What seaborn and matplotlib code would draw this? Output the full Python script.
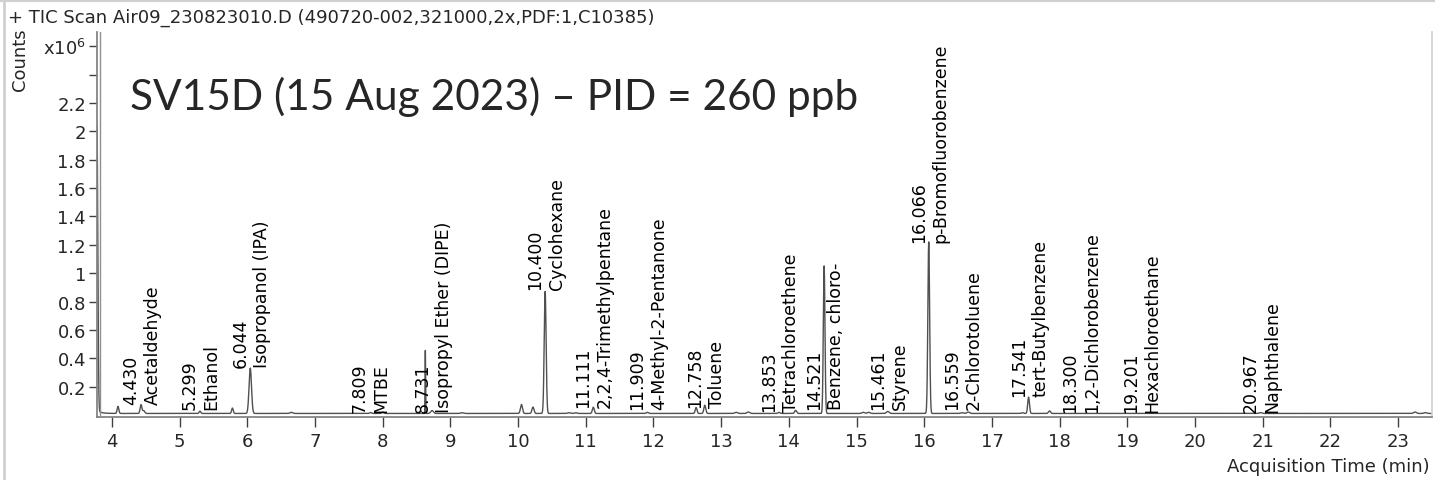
import numpy as np
import pandas as pd
import seaborn as sns
import matplotlib.pyplot as plt
from matplotlib.lines import Line2D

# peaks (retention time in min, height in 1e6 counts, width sigma in min)
peak_rt = [4.09, 4.43, 4.47, 5.30, 5.78, 6.044, 6.65, 7.82, 8.00, 8.63, 8.73, 9.17,
           10.05, 10.22, 10.40, 10.75, 10.85, 11.111, 11.909, 12.63, 12.758, 13.22,
           13.40, 13.853, 14.10, 14.521, 15.10, 15.18, 15.461, 16.066, 16.559, 16.65,
           17.45, 17.541, 17.85, 20.967, 23.25, 23.40]
peak_h = [0.05, 0.062, 0.02, 0.016, 0.038, 0.32, 0.008, 0.006, 0.01, 0.45, 0.02, 0.005,
          0.063, 0.045, 0.86, 0.005, 0.005, 0.044, 0.008, 0.042, 0.058, 0.008,
          0.01, 0.008, 0.022, 1.04, 0.008, 0.008, 0.014, 1.21, 0.005, 0.01,
          0.005, 0.115, 0.018, 0.006, 0.01, 0.006]
peak_w = [0.012, 0.013, 0.015, 0.012, 0.012, 0.018, 0.02, 0.015, 0.015, 0.004, 0.02, 0.02,
          0.015, 0.015, 0.014, 0.02, 0.02, 0.014, 0.015, 0.013, 0.014, 0.02,
          0.02, 0.015, 0.015, 0.012, 0.02, 0.02, 0.02, 0.013, 0.02, 0.02,
          0.015, 0.013, 0.015, 0.02, 0.02, 0.02]
baseline = 0.011
solvent_h = 2.0

# annotations
lab_rt = ["4.430", "5.299", "6.044", "7.809", "8.731", "10.400", "11.111", "11.909",
          "12.758", "13.853", "14.521", "15.461", "16.066", "16.559", "17.541",
          "18.300", "19.201", "20.967"]
lab_name = ["Acetaldehyde", "Ethanol", "Isopropanol (IPA)", "MTBE", "Isopropyl Ether (DIPE)",
            "Cyclohexane", "2,2,4-Trimethylpentane", "4-Methyl-2-Pentanone", "Toluene",
            "Tetrachloroethene", "Benzene, chloro-", "Styrene", "p-Bromofluorobenzene",
            "2-Chlorotoluene", "tert-Butylbenzene", "1,2-Dichlorobenzene", "Hexachloroethane",
            "Naphthalene"]
lab_y = [0.075, 0.04, 0.34, 0.02, 0.02, 0.89, 0.06, 0.04, 0.06, 0.03, 0.04, 0.04,
         1.22, 0.04, 0.135, 0.02, 0.02, 0.02]

# build trace
t = np.linspace(3.78, 23.55, 12000)
y = np.full_like(t, baseline)
y += solvent_h * np.exp(-0.5 * ((t - 3.78) / 0.012) ** 2) + 0.02 * np.exp(-(t - 3.78) / 0.06)
for rt, h, w in zip(peak_rt, peak_h, peak_w):
    y += h * np.exp(-0.5 * ((t - rt) / w) ** 2)
df = pd.DataFrame({"time": t, "counts": y})

sns.set_theme(style="white")
plt.rcParams['font.family'] = ['DejaVu Sans']

fig = plt.figure(figsize=(14.35, 4.81), dpi=100)
ax = fig.add_axes([97 / 1435, 63 / 481, (1432 - 97) / 1435, (448 - 63) / 481])

sns.lineplot(data=df, x="time", y="counts", estimator=None, color="#505050", lw=1.0, ax=ax)

ax.set_xlim(3.78, 23.5)
ax.set_ylim(-0.014, 2.70)

ax.set_xticks(range(4, 24))
ax.set_xticklabels([str(i) for i in range(4, 24)])
yt = [0.2, 0.4, 0.6, 0.8, 1.0, 1.2, 1.4, 1.6, 1.8, 2.0, 2.2, 2.4, 2.6]
ylabs = ["0.2", "0.4", "0.6", "0.8", "1", "1.2", "1.4", "1.6", "1.8", "2", "2.2", "", "x10$^6$"]
ax.set_yticks(yt)
ax.set_yticklabels(ylabs)
ax.tick_params(axis="x", direction="out", length=7, width=1, color="#404040", pad=4,
               labelsize=13, bottom=True)
ax.tick_params(axis="y", direction="out", length=6, width=1, color="#404040", pad=2,
               labelsize=13, left=True)

ax.spines["top"].set_visible(False)
ax.spines["right"].set_color("#d0d0d0")
ax.spines["left"].set_color("#808080")
ax.spines["bottom"].set_color("#808080")
# second line of the double left axis
fig.add_artist(Line2D([100 / 1435, 100 / 1435], [63 / 481, 448 / 481], color="#909090", lw=1))

ax.set_xlabel("")
ax.set_ylabel("")
fig.text(1430 / 1435, 1 - 467 / 481, "Acquisition Time (min)", ha="right", va="center", fontsize=13)
fig.text(20 / 1435, 1 - 60 / 481, "Counts", rotation=90, ha="center", va="center", fontsize=13)
fig.text(8 / 1435, 1 - 18 / 481, "+ TIC Scan Air09_230823010.D (490720-002,321000,2x,PDF:1,C10385)",
         ha="left", va="center", fontsize=13)
fig.text(130 / 1435, 1 - 97 / 481, "SV15D (15 Aug 2023) \u2013 PID = 260 ppb",
         ha="left", va="center", fontsize=30.5, family=["Lato", "DejaVu Sans"])

for rt, name, ly in zip(lab_rt, lab_name, lab_y):
    x = float(rt)
    ax.annotate(rt, xy=(x, ly), xytext=(-0.5, 0), textcoords="offset points", rotation=90,
                ha="right", va="bottom", fontsize=12.5, color="black")
    ax.annotate(name, xy=(x, ly), xytext=(2, 0), textcoords="offset points", rotation=90,
                ha="left", va="bottom", fontsize=12.5, color="black")

# light frame around the picture
fig.add_artist(Line2D([4 / 1435, 4 / 1435], [0, 1], color="#d0d0d0", lw=2))
fig.add_artist(Line2D([0, 1], [1 - 1 / 481, 1 - 1 / 481], color="#d0d0d0", lw=3))

fig.savefig("out.png", dpi=100)
